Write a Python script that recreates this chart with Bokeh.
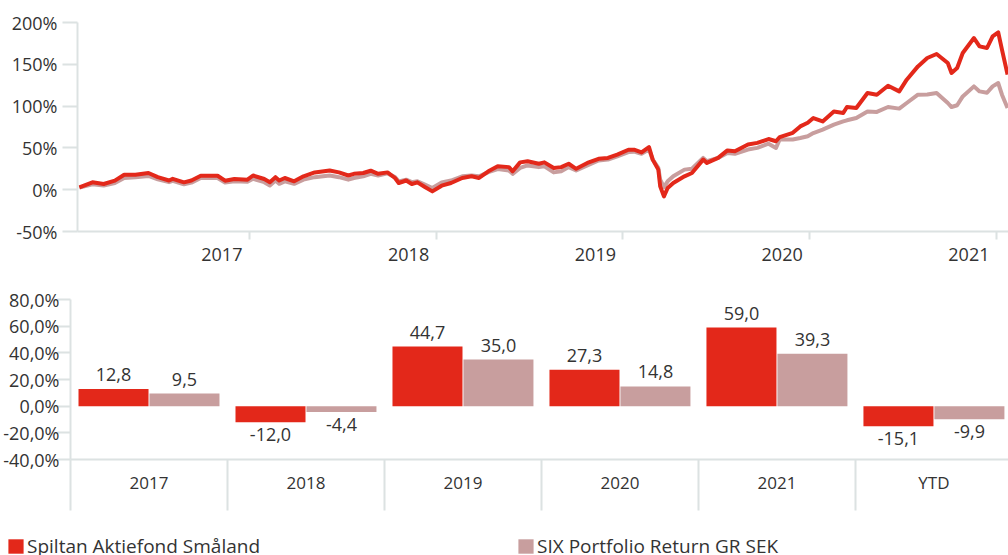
from bokeh.plotting import figure
from bokeh.models import (ColumnDataSource, FixedTicker, CustomJSTickFormatter,
                          Legend, LegendItem)
from bokeh.transform import dodge
from bokeh.embed import file_html
from bokeh.resources import INLINE
from bokeh.core.properties import value

RED = "#e3281a"
PINK = "#c89e9e"
TEXT = "#333333"
AXIS = "#dce2e2"
FONT = "Open Sans"

series_names = ["Spiltan Aktiefond Småland", "SIX Portfolio Return GR SEK"]

# ---- line chart data (decimal years, cumulative return %) ----
dates = [2017.09, 2017.16, 2017.22, 2017.28, 2017.33, 2017.39, 2017.46, 2017.51, 2017.57, 2017.59,
         2017.65, 2017.69, 2017.74, 2017.83, 2017.87, 2017.92, 2017.99,
         2018.02, 2018.08, 2018.11, 2018.14, 2018.16, 2018.19, 2018.24, 2018.29, 2018.35, 2018.43,
         2018.48, 2018.53, 2018.56, 2018.61, 2018.65, 2018.69, 2018.74, 2018.78, 2018.80, 2018.84,
         2018.87, 2018.90, 2018.94, 2018.98,
         2019.03, 2019.08, 2019.14, 2019.19, 2019.23, 2019.28, 2019.33, 2019.39, 2019.41, 2019.45,
         2019.49, 2019.55, 2019.58, 2019.63, 2019.67, 2019.71, 2019.75, 2019.81, 2019.87, 2019.92, 2019.97,
         2020.03, 2020.06, 2020.10, 2020.14, 2020.16, 2020.19, 2020.20, 2020.22, 2020.24, 2020.27,
         2020.33, 2020.37, 2020.43, 2020.45, 2020.51, 2020.56, 2020.60, 2020.67, 2020.72, 2020.78,
         2020.82, 2020.84, 2020.91, 2020.95, 2020.99,
         2021.02, 2021.07, 2021.13, 2021.18, 2021.20, 2021.25, 2021.31, 2021.36, 2021.42, 2021.48,
         2021.52, 2021.58, 2021.63, 2021.68, 2021.74, 2021.76, 2021.79, 2021.82, 2021.88, 2021.91,
         2021.95, 2021.98,
         2022.01, 2022.03, 2022.06]

fund = [2.8, 8.8, 6.8, 10.8, 17.9, 18.0, 20.0, 15.0, 11.0, 13.0, 8.8, 11.0, 16.7, 16.7, 10.8, 12.8, 12.0,
        17.0, 12.8, 9.0, 15.0, 11.0, 14.0, 10.0, 16.0, 20.7, 23.0, 20.7, 17.0, 19.0, 20.0, 22.7, 19.0,
        20.7, 14.0, 8.0, 11.0, 6.8, 8.8, 3.2, -2.0,
        4.8, 8.0, 14.0, 16.0, 14.0, 22.0, 28.0, 27.0, 22.0, 32.7, 34.0, 31.0, 32.7, 26.0, 27.0, 31.0,
        25.0, 32.0, 37.0, 38.0, 42.0,
        47.8, 47.8, 44.6, 51.0, 36.0, 24.0, 4.0, -8.0, 2.0, 8.0, 16.0, 20.0, 36.0, 32.0, 38.0, 47.0,
        46.0, 54.0, 56.0, 60.6, 58.0, 63.0, 68.0, 75.7, 80.0,
        85.7, 81.7, 93.6, 91.7, 98.9, 97.7, 115.6, 113.6, 124.4, 117.6, 131.6, 147.5, 157.5, 162.3,
        151.5, 139.6, 145.5, 163.5, 181.4, 171.4, 169.5, 183.4,
        188.2, 167.5, 137.6]

index = [2.5, 6.5, 5.0, 8.0, 14.0, 15.0, 16.5, 12.5, 9.0, 10.5, 6.5, 8.5, 14.0, 14.0, 8.5, 10.0, 9.5,
         13.0, 9.0, 5.0, 11.0, 7.0, 10.0, 7.0, 12.0, 15.0, 17.0, 15.0, 12.0, 14.0, 16.0, 19.0, 17.0,
         19.5, 15.0, 10.0, 12.0, 9.0, 10.0, 6.0, 2.0,
         8.8, 11.0, 16.0, 17.0, 16.0, 21.0, 24.7, 23.0, 19.0, 26.0, 29.0, 27.0, 28.0, 20.7, 22.0, 27.0,
         23.0, 29.0, 35.0, 36.0, 40.0,
         45.0, 45.5, 43.0, 48.0, 36.0, 26.0, 12.0, 3.0, 10.0, 16.0, 24.0, 25.0, 38.0, 34.0, 38.0, 44.0,
         43.0, 48.0, 50.0, 55.0, 50.0, 60.0, 60.0, 61.8, 64.0,
         67.8, 71.8, 77.8, 81.7, 83.0, 85.7, 93.6, 93.0, 98.9, 97.0, 103.7, 113.6, 114.0, 115.6,
         103.7, 98.9, 101.0, 111.6, 123.6, 117.6, 116.0, 123.6,
         127.6, 113.6, 97.7]

year_ticks = [2018, 2019, 2020, 2021, 2022]
year_label_pos = [2017.853, 2018.853, 2019.853, 2020.853, 2021.853]
line_yticks = [-50, 0, 50, 100, 150, 200]

# ---- bar chart data ----
bar_cats = ["2017", "2018", "2019", "2020", "2021", "YTD"]
bar_fund = [12.8, -12.0, 44.7, 27.3, 59.0, -15.1]
bar_index = [9.5, -4.4, 35.0, 14.8, 39.3, -9.9]
bar_yticks = [-40, -20, 0, 20, 40, 60, 80]

W = 1008


def style_axis(ax):
    ax.axis_line_color = AXIS
    ax.axis_line_width = 2
    ax.major_tick_line_color = AXIS
    ax.major_tick_line_width = 2
    ax.minor_tick_line_color = AXIS
    ax.minor_tick_line_width = 2
    ax.major_tick_in = 0
    ax.minor_tick_in = 0
    ax.major_label_text_font = FONT
    ax.major_label_text_color = TEXT
    ax.major_label_text_font_size = "18px"


# ================= TOP: line chart =================
p1 = figure(width=W, height=280, x_range=(2017.08, 2022.065), y_range=(-50, 200),
            output_backend="svg", toolbar_location=None,
            min_border_left=77, min_border_right=0, min_border_top=22, min_border_bottom=49)
p1.outline_line_color = None
p1.grid.visible = False

p1.line(dates, index, color=PINK, line_width=4, line_join="round")
p1.line(dates, fund, color=RED, line_width=4, line_join="round")

xa = p1.xaxis[0]
style_axis(xa)
xa.ticker = FixedTicker(ticks=year_label_pos, minor_ticks=year_ticks)
xa.formatter = CustomJSTickFormatter(code="return String(Math.floor(tick));")
xa.major_tick_out = 0
xa.minor_tick_out = 8
xa.major_label_standoff = 8

ya = p1.yaxis[0]
style_axis(ya)
ya.ticker = FixedTicker(ticks=line_yticks, minor_ticks=[])
ya.formatter = CustomJSTickFormatter(code="return tick + '%';")
ya.major_tick_out = 15
ya.minor_tick_out = 0
ya.major_label_standoff = 5

# ================= BOTTOM: bar chart =================
xc = [i + 0.5 for i in range(len(bar_cats))]
src2 = ColumnDataSource(dict(
    xc=xc, fund=bar_fund, idx=bar_index,
    fl=[f"{v:.1f}".replace(".", ",") for v in bar_fund],
    il=[f"{v:.1f}".replace(".", ",") for v in bar_index],
    fb=["bottom" if v >= 0 else "top" for v in bar_fund],
    ib=["bottom" if v >= 0 else "top" for v in bar_index],
    fo=[-8 if v >= 0 else 6 for v in bar_fund],
    io=[-8 if v >= 0 else 6 for v in bar_index],
))

p2 = figure(width=W, height=240, x_range=(0, 5.975), y_range=(-40, 80),
            output_backend="svg", toolbar_location=None,
            min_border_left=70, min_border_right=0, min_border_top=19, min_border_bottom=61)
p2.outline_line_color = None
p2.grid.visible = False

off = 0.226
bw = 0.446
p2.vbar(x=dodge("xc", -off), top="fund", bottom=0, width=bw, fill_color=RED,
        line_color=None, source=src2)
p2.vbar(x=dodge("xc", off), top="idx", bottom=0, width=bw, fill_color=PINK,
        line_color=None, source=src2)

p2.text(x=dodge("xc", -off), y="fund", text="fl", text_align="center", text_baseline="fb",
        y_offset="fo", text_font=value(FONT), text_font_size="18px", text_color=TEXT, source=src2)
p2.text(x=dodge("xc", off), y="idx", text="il", text_align="center", text_baseline="ib",
        y_offset="io", text_font=value(FONT), text_font_size="18px", text_color=TEXT, source=src2)

xb = p2.xaxis[0]
style_axis(xb)
xb.ticker = FixedTicker(ticks=xc, minor_ticks=list(range(len(bar_cats) + 1)))
xb.formatter = CustomJSTickFormatter(args=dict(labels=bar_cats),
                                     code="return labels[Math.floor(tick)];")
xb.major_tick_out = 0
xb.minor_tick_out = 51
xb.major_label_standoff = -40
xb.major_label_text_font_size = "17px"

yb = p2.yaxis[0]
style_axis(yb)
yb.ticker = FixedTicker(ticks=bar_yticks, minor_ticks=[])
yb.formatter = CustomJSTickFormatter(code="return tick.toFixed(1).replace('.', ',') + '%';")
yb.major_tick_out = 13
yb.minor_tick_out = 0
yb.major_label_standoff = -2

# ================= LEGEND strip =================
p3 = figure(width=W, height=35, x_range=(0, 1), y_range=(0, 1),
            output_backend="svg", toolbar_location=None,
            x_axis_location=None, y_axis_location=None,
            min_border_left=0, min_border_right=0, min_border_top=7, min_border_bottom=0)
p3.outline_line_color = None
p3.grid.visible = False
# zero-size swatch renderers that only feed the legend
lr1 = p3.vbar(x=[0], top=[0], bottom=[0], width=0, fill_color=RED, line_color=None)
lr2 = p3.vbar(x=[0], top=[0], bottom=[0], width=0, fill_color=PINK, line_color=None)
legend = Legend(items=[LegendItem(label=series_names[0], renderers=[lr1]),
                       LegendItem(label=series_names[1], renderers=[lr2])],
                orientation="horizontal", location="top_left",
                glyph_width=19, glyph_height=18, label_width=476, label_height=17,
                label_standoff=2, spacing=13, padding=0, margin=6,
                border_line_color=None, background_fill_alpha=0,
                label_text_font=FONT, label_text_font_size="19px", label_text_color=TEXT)
p3.add_layout(legend, "center")

open("out.html", "w").write(file_html([p1, p2, p3], INLINE))
